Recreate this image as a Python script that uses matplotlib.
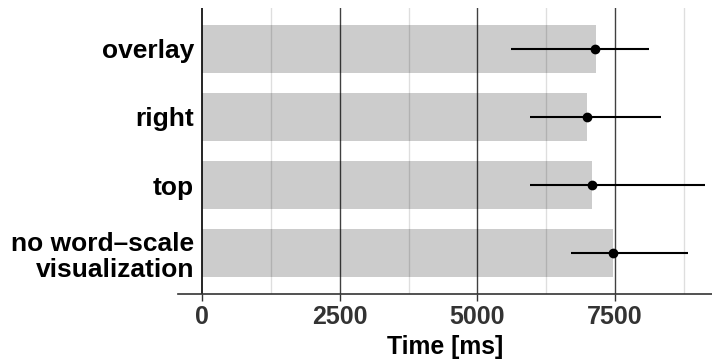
import numpy as np
import matplotlib
matplotlib.use("AGG")
import matplotlib.pyplot as plt

plt.rcParams['font.family'] = ['Liberation Sans', 'DejaVu Sans']

conditions = ["no word\u2013scale\nvisualization", "top", "right", "overlay"]
mean_time = [7465, 7085, 6995, 7155]
point_time = [7461, 7085, 6995, 7146]
ci_low = [6698, 5952, 5958, 5613]
ci_high = [8825, 9140, 8335, 8127]

major_ticks = [0, 2500, 5000, 7500]
minor_ticks = [1250, 3750, 6250, 8750]

fig = plt.figure(figsize=(7.12, 3.63), dpi=100)
ax = fig.add_axes([0.25, 0.19, 0.75, 0.788])

ypos = np.arange(len(conditions))
ax.barh(ypos, mean_time, height=0.7, color="#cccccc", zorder=1)

# grid on top of the bars, semi transparent
for x in minor_ticks:
    ax.axvline(x, color="black", alpha=0.13, lw=1.0, zorder=2)
for x in major_ticks[1:]:
    ax.axvline(x, color="black", alpha=0.75, lw=1.0, zorder=2)
ax.axvline(0, color="black", lw=1.2, zorder=2)

pt = np.array(point_time)
xerr = [pt - np.array(ci_low), np.array(ci_high) - pt]
ax.errorbar(pt, ypos, xerr=xerr, fmt="o", color="black", ms=6,
            elinewidth=1.5, capsize=0, zorder=3)

ax.set_xlim(-442, 9267)
ax.set_ylim(-0.6, 3.6)
ax.set_yticks(ypos)
ax.set_yticklabels(conditions, fontsize=19, fontweight="bold", color="black",
                   linespacing=1.1)
ax.set_xticks(major_ticks)
ax.set_xticklabels([str(t) for t in major_ticks], fontsize=18,
                   fontweight="bold", color="#333333")
ax.set_xlabel("Time [ms]", fontsize=17.8, fontweight="bold", labelpad=4)

# labels sit a bit inside the panel, like in the original
ax.tick_params(axis="y", length=0, pad=-11.5)
ax.tick_params(axis="x", length=5, width=1, color="#333333", pad=3)
for s in ["top", "right", "left"]:
    ax.spines[s].set_visible(False)
ax.spines["bottom"].set_color("#333333")
ax.spines["bottom"].set_linewidth(1.2)

fig.savefig("out.png", dpi=100)
